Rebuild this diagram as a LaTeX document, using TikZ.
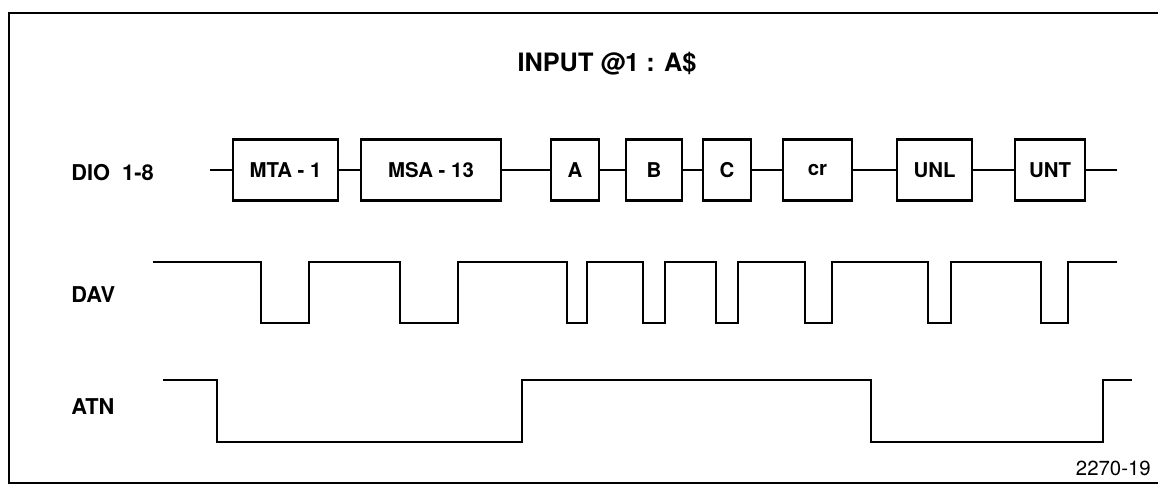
\documentclass[tikz,border=0pt]{standalone}
\usepackage{fontspec}
\setmainfont{TeX Gyre Heros}
\begin{document}
\begin{tikzpicture}[
  x=0.025cm, y=-0.025cm,
  bx/.style={draw, line width=1.6pt, rectangle, minimum height=1.525cm,
             inner sep=2pt, font=\fontsize{14.5}{17}\selectfont\bfseries},
  lbl/.style={anchor=west, inner sep=0pt, font=\fontsize{15.5}{18}\selectfont\bfseries},
  bus/.style={line width=1pt},
  sig/.style={line width=1.4pt, line join=miter},
  frm/.style={line width=1.8pt}
]
\useasboundingbox (0,0) rectangle (1158,487);
\draw[frm] (1158,13) -- (9,13) -- (9,483) -- (1158,483);
\node[font=\fontsize{18}{21}\selectfont\bfseries] (title) at (607,64) {INPUT @1 : A\$};
\node[lbl] (dio) at (71,173) {DIO\ \ 1-8};
\node[lbl] (dav) at (71,295) {DAV};
\node[lbl] (atn) at (71,407) {ATN};
\node[anchor=east, inner sep=0pt, font=\fontsize{14.5}{17}\selectfont] (fig) at (1151,468) {2270-19};
\coordinate (dioL) at (210,170);
\coordinate (dioR) at (1117,170);
\node[bx, minimum width=2.625cm] (mta) at (285.5,170) {MTA - 1};
\node[bx, minimum width=3.5cm]   (msa) at (431,170)   {MSA - 13};
\node[bx, minimum width=1.2cm]   (ca)  at (575,170)   {A};
\node[bx, minimum width=1.4cm]   (cb)  at (654,170)   {B};
\node[bx, minimum width=1.2cm]   (cc)  at (727,170)   {C};
\node[bx, minimum width=1.725cm] (cr)  at (817.5,170) {cr};
\node[bx, minimum width=1.875cm] (unl) at (934.5,170) {UNL};
\node[bx, minimum width=1.75cm]  (unt) at (1050,170)  {UNT};
\draw[bus] (dioL) -- (mta) -- (msa) -- (ca) -- (cb) -- (cc) -- (cr) -- (unl) -- (unt) -- (dioR);
\draw[sig] (153,262)
  foreach \f/\r in {261/309, 400/458, 567/587, 643/665, 716/738, 805/832, 928/951, 1041/1068}
  { -- (\f,262) -- (\f,323) -- (\r,323) -- (\r,262) } -- (1117,262);
\draw[sig] (163,380) -- (217,380) -- (217,442) -- (522,442) -- (522,380)
  -- (871,380) -- (871,442) -- (1103,442) -- (1103,380) -- (1132,380);
\end{tikzpicture}
\end{document}
